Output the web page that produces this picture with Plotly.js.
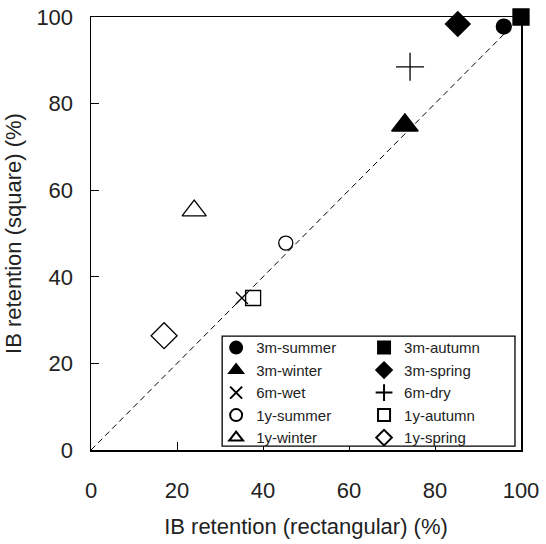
<!DOCTYPE html>
<html><head><meta charset="utf-8">
<script src="https://cdn.plot.ly/plotly-3.0.1.min.js"></script>
<style>body{margin:0;background:#fff}#c{width:546px;height:544px}</style>
</head><body><div id="c"></div>
<script>
const names = ["3m-summer","3m-autumn","3m-winter","3m-spring","6m-wet","6m-dry","1y-summer","1y-autumn","1y-winter","1y-spring"];
const rectVals = [96, 100, 73, 85.3, 35.1, 74.2, 45.3, 37.7, 24, 17];
const squareVals = [97.8, 100, 75, 98.4, 35.1, 88.5, 47.8, 35.1, 55.3, 26.4];
const symbols = ["circle","square","triangle-up","diamond","x-thin-open","cross-thin-open","circle-open","square-open","triangle-up-open","diamond-open"];
const sizes = [15, 16, 23, 19, 12, 20, 14, 15, 21, 20];
const legendColumn = ["legend","legend2","legend","legend2","legend","legend2","legend","legend2","legend","legend2"];
const refLine = [0, 100];
const xTicks = [0, 20, 40, 60, 80, 100];
const yTicks = [0, 20, 40, 60, 80, 100];

const font = 'Liberation Sans, Arial, sans-serif';
const traces = names.map((n, i) => ({
  type: 'scatter', mode: 'markers', name: n,
  x: [rectVals[i]], y: [squareVals[i]],
  legend: legendColumn[i],
  marker: {symbol: symbols[i], size: sizes[i], color: '#000',
    line: {color: '#000', width: 1.3}},
  cliponaxis: false
}));
traces.unshift({type:'scatter', mode:'lines', x: refLine, y: refLine,
  line:{color:'#000', width:1, dash:'6px,4px'}, showlegend:false, hoverinfo:'skip'});

const axisBase = () => ({
  range:[0,100], showgrid:false, zeroline:false, showline:true, mirror:true,
  linecolor:'#000', linewidth:1.5, ticks:'inside', ticklen:8, tickcolor:'#000', tickwidth:1,
  tickfont:{family:font, size:22, color:'#222'},
  fixedrange:true
});
const legendBase = (x) => ({
  x:x, y:0.274, yanchor:'top', xanchor:'left',
  bgcolor:'rgba(0,0,0,0)', borderwidth:0,
  font:{family:font, size:15, color:'#222'},
  itemsizing:'constant', tracegroupgap:0, orientation:'v'
});
const layout = {
  width:546, height:544,
  margin:{l:91, r:25, t:17, b:94},
  font:{family:font, size:15, color:'#222'},
  paper_bgcolor:'#fff', plot_bgcolor:'#fff',
  showlegend:true,
  xaxis: Object.assign(axisBase(), {tickvals:xTicks, ticklabelstandoff:20,
    title:{text:'IB retention (rectangular) (%)', standoff:16,
      font:{family:font, size:22, color:'#222'}}}),
  yaxis: Object.assign(axisBase(), {tickvals:yTicks, ticklabelstandoff:12,
    title:{text:'IB retention (square) (%)', standoff:8,
      font:{family:font, size:22, color:'#222'}}}),
  legend: legendBase(0.291),
  legend2: legendBase(0.635),
  shapes:[{type:'rect', xref:'paper', yref:'paper', x0:0.305, x1:0.986, y0:0.009, y1:0.263,
    line:{color:'#000', width:1.3}, fillcolor:'#fff', layer:'above'}]
};
Plotly.newPlot('c', traces, layout, {displayModeBar:false, staticPlot:true});
</script></body></html>
